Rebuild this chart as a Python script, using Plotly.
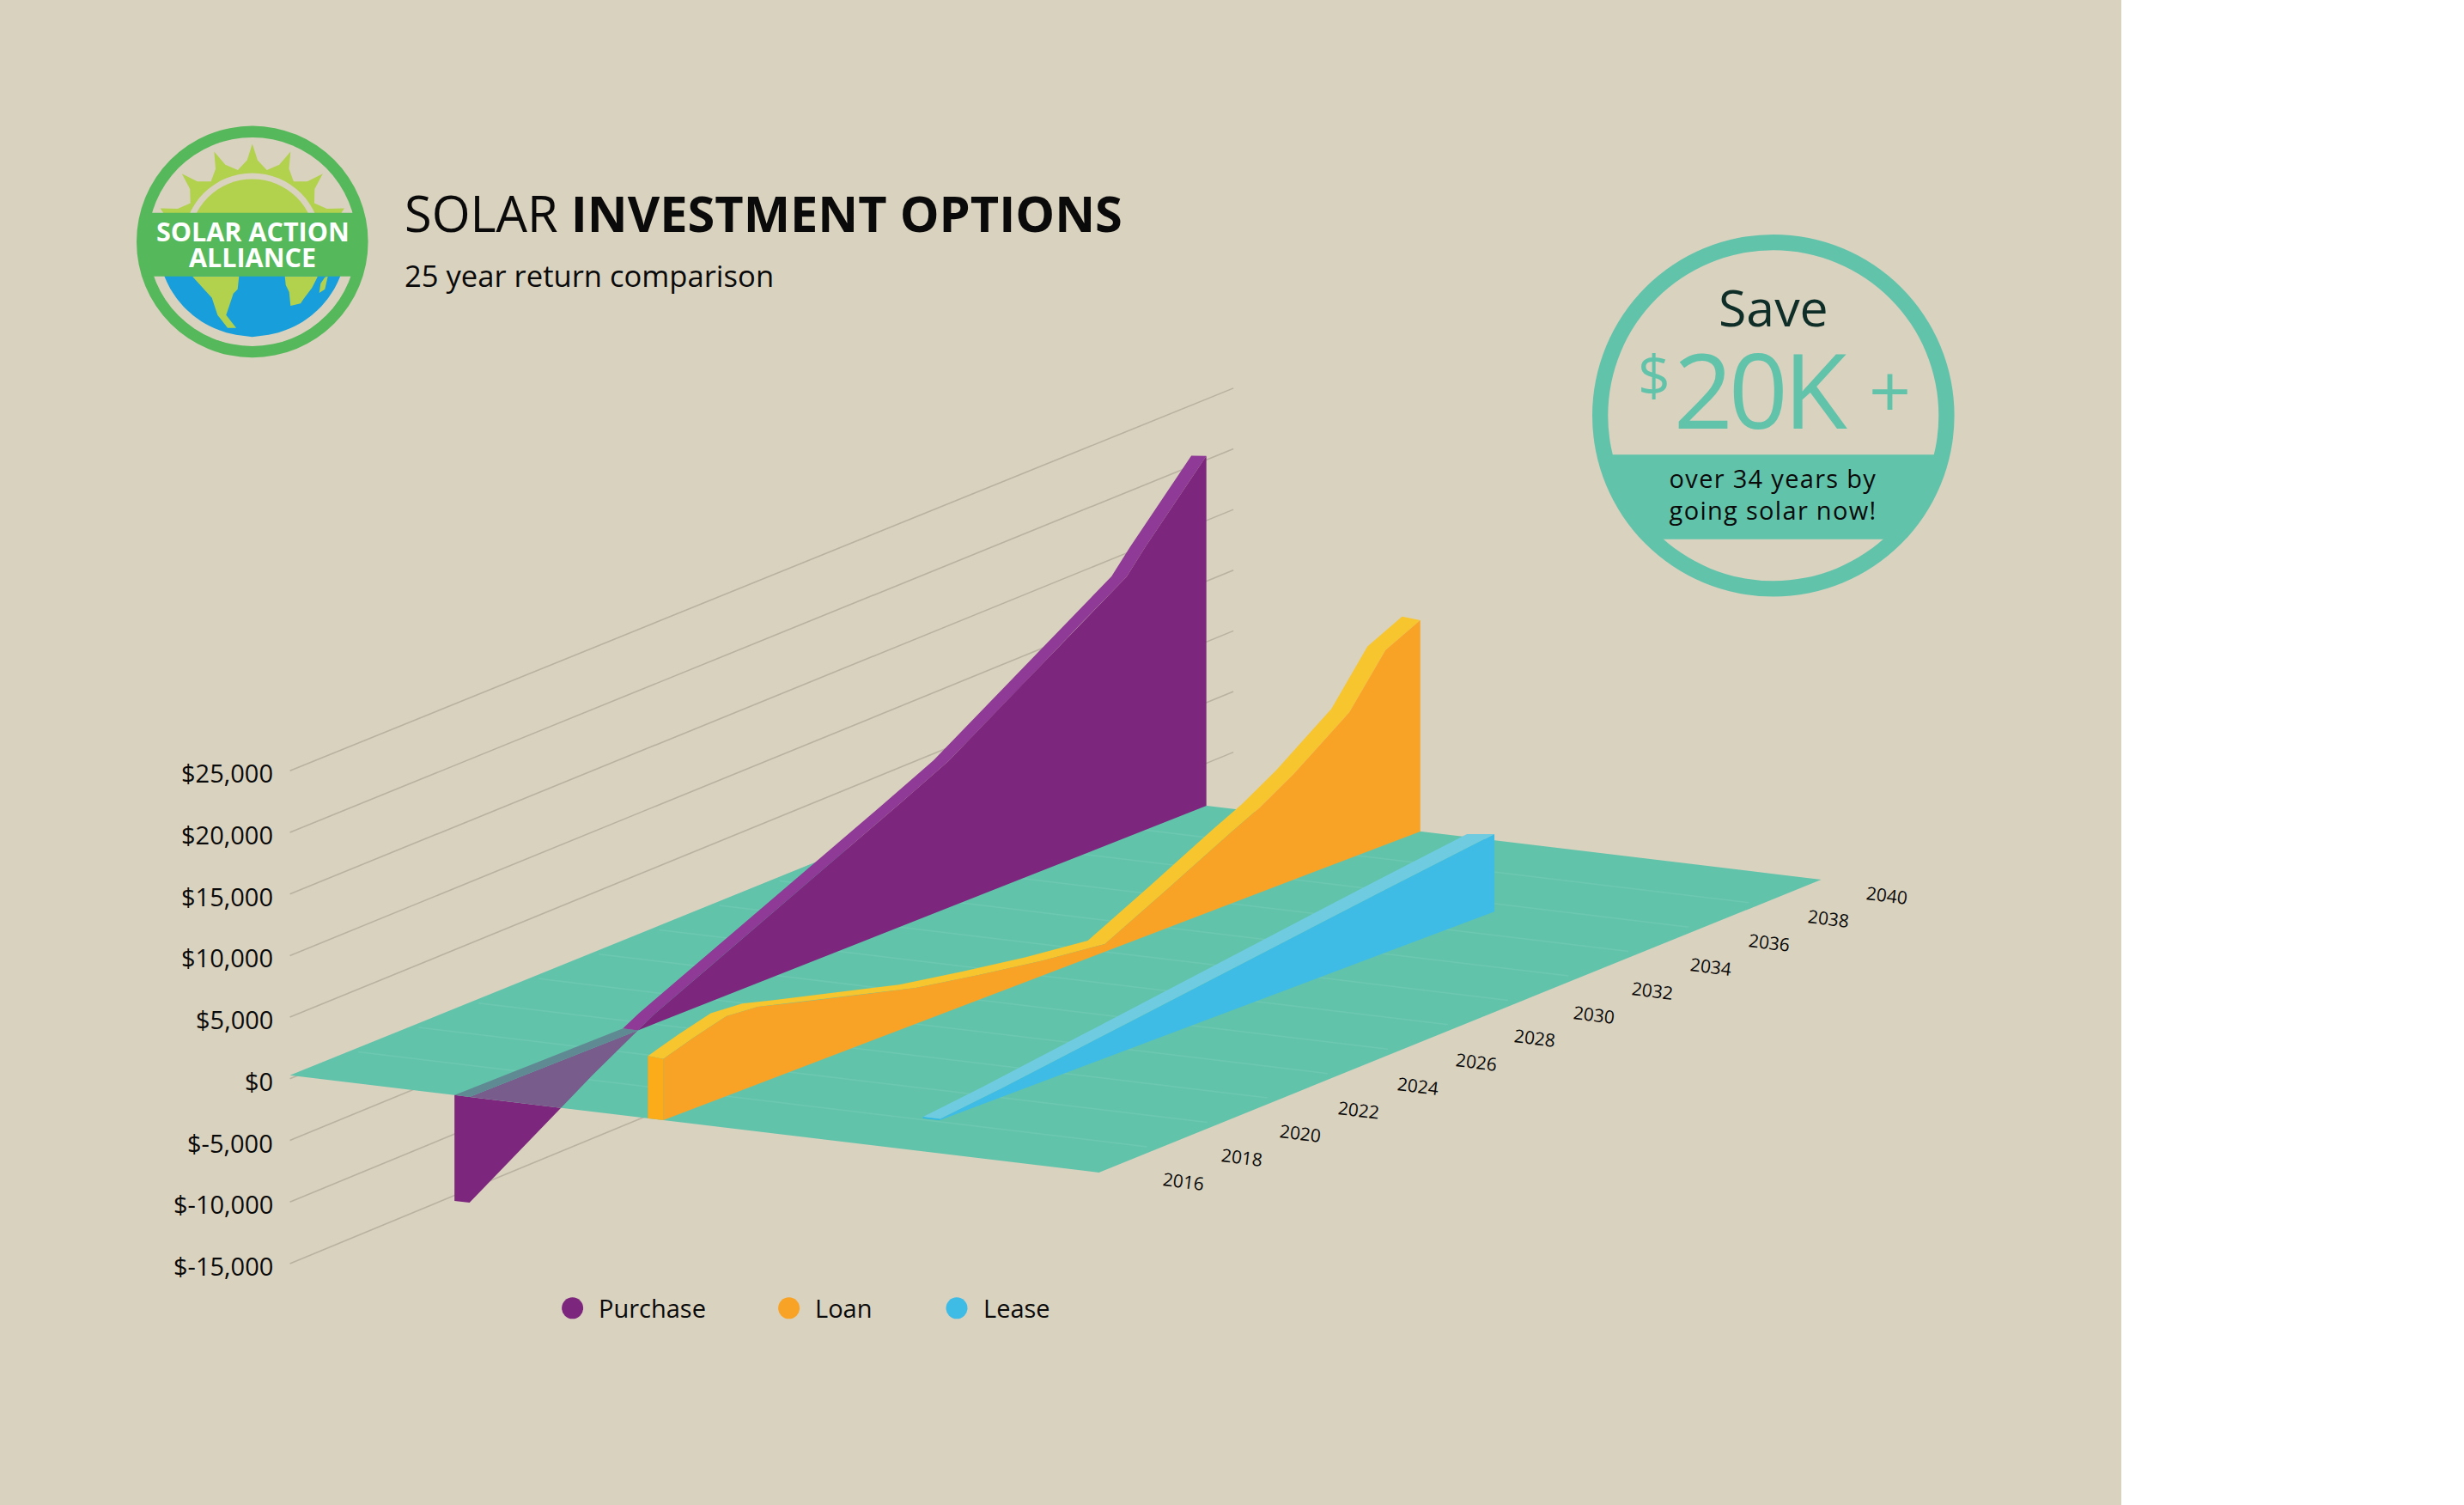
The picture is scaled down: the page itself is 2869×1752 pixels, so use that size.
"""
Solar investment options: 3D looking area chart, drawn with an oblique projection on hidden 2D axes.
"""

import json

import numpy as np
import plotly.graph_objects as go

# data
value_ticks = [25000, 20000, 15000, 10000, 5000, 0, -5000, -10000, -15000]
year_ticks = list(range(2016, 2041, 2))

purchase_years = [2016, 2018, 2020, 2022, 2024, 2026, 2028, 2030, 2031.6, 2034, 2036, 2037.4, 2038, 2040]
purchase_values = [-8585, -5390, -2190, 760, 3068, 5377, 7664, 9986, 11900, 15704, 18947, 21150, 22943, 28400]

loan_years = [2016, 2017, 2018, 2019, 2020, 2022, 2024, 2026, 2028, 2030, 2032, 2034, 2034.9, 2036, 2037.75, 2038.9, 2040]
loan_values = [4972, 5788, 6485, 6276, 5579, 4254, 2929, 2022, 1220, 630, 3173, 5788, 6900, 8600, 11860, 15800, 17150]

lease_years = [2018.1, 2020, 2024, 2028, 2032, 2035.5]
lease_values = [100, 690, 2150, 3600, 5080, 6280]

legend_names = ["Purchase", "Loan", "Lease"]

# projection: screen position of the floor and of one dollar
W, H = 2869, 1752
FLOOR_LEFT = (337.6, 1251.8)
YEAR_VEC = (841.0, -341.0)  # 2016 -> 2040
DEPTH_VEC = (941.9, 113.2)
PX_PER_DOLLAR = 71.7 / 5000

# depth of each wall at its first and last year, width of its top ribbon and how far the back edge is raised
PURCHASE_DEPTH = (0.222, 0.240)
LOAN_DEPTH = (0.4615, 0.5044)
LEASE_DEPTH = (0.7254, 0.7635)
PURCHASE_RIBBON = (0.0186, 0.0186)
LOAN_RIBBON = (0.019, 0.0225)
LEASE_RIBBON = (0.0212, 0.034)
PURCHASE_LIFT = (0, -140)
LOAN_LIFT = (100, 120)
LEASE_LIFT = (0, -265)

FONT = "Open Sans"
PANEL = "#d9d2bf"
TEAL = "#62c3ab"
FLOOR_LINE = "#6dc8b1"
GRID = "#b9b2a1"
DARK = "#0a0a0a"
PURPLE = "#7d267d"
PURPLE_TOP = "#8e3a96"
PURPLE_TINT = "#775c8c"
PURPLE_BAND = "#5f8a93"
ORANGE = "#f9a326"
ORANGE_TOP = "#f7c52d"
ORANGE_CAP = "#fbac18"
BLUE = "#3ebce6"
BLUE_TOP = "#6fcbe0"
BLUE_CAP = "#27b4ee"
GREEN = "#55b95b"
LIME = "#b2d14d"
SEA = "#189fdb"

# plotly has no tracking option, set on the svg text after drawing
TRACKING = {"20K": -5.2, "over 34 years by": 1.3, "going solar now!": 1.3}


def project(year, value, depth):
    t = (np.asarray(year, dtype=float) - 2016) / 24
    value = np.asarray(value, dtype=float)
    depth = np.asarray(depth, dtype=float)
    x = FLOOR_LEFT[0] + t * YEAR_VEC[0] + depth * DEPTH_VEC[0]
    y = FLOOR_LEFT[1] + t * YEAR_VEC[1] + depth * DEPTH_VEC[1] - value * PX_PER_DOLLAR
    return x, y


def polygon(xs, ys, color):
    return go.Scatter(
        x=list(xs),
        y=list(ys),
        mode="lines",
        fill="toself",
        fillcolor=color,
        line={"width": 0, "color": color},
        hoverinfo="skip",
        showlegend=False,
    )


def path_of(xs, ys):
    return "M " + " L ".join(f"{a:.1f},{b:.1f}" for a, b in zip(xs, ys)) + " Z"


def clip_front(xs, ys, keep_below):
    # Sutherland-Hodgman against the front edge of the floor
    def side(x, y):
        edge = FLOOR_LEFT[1] + (x - FLOOR_LEFT[0]) * DEPTH_VEC[1] / DEPTH_VEC[0]
        return (y - edge) if keep_below else (edge - y)

    out_x, out_y = [], []
    n = len(xs)
    for i in range(n):
        x1, y1, x2, y2 = xs[i], ys[i], xs[(i + 1) % n], ys[(i + 1) % n]
        s1, s2 = side(x1, y1), side(x2, y2)
        if s1 >= 0:
            out_x.append(x1)
            out_y.append(y1)
        if (s1 >= 0) != (s2 >= 0):
            f = s1 / (s1 - s2)
            out_x.append(x1 + f * (x2 - x1))
            out_y.append(y1 + f * (y2 - y1))
    return out_x, out_y


def series_traces(years, values, depth_range, ribbon_range, lift_range, wall, top, cap):
    years = np.array(years, dtype=float)
    values = np.array(values, dtype=float)
    f = (years - years[0]) / (years[-1] - years[0])
    depth = depth_range[0] + f * (depth_range[1] - depth_range[0])
    rear = depth - (ribbon_range[0] + f * (ribbon_range[1] - ribbon_range[0]))
    lift = lift_range[0] + f * (lift_range[1] - lift_range[0])
    traces = []

    first = 0
    if values[0] < 0:
        # the part under the floor: solid below the front edge, seen through the floor above it
        first = int(np.argmax(values > 0))
        v0, v1 = values[first - 1], values[first]
        s = -v0 / (v1 - v0)
        cross_year = years[first - 1] + s * (years[first] - years[first - 1])
        cross_depth = depth[first - 1] + s * (depth[first] - depth[first - 1])
        cross_rear = rear[first - 1] + s * (rear[first] - rear[first - 1])

        xr, yr = project(years[0], values[0], rear[0])
        xr0, yr0 = project(years[0], 0, rear[0])
        xt, yt = project(years[:first], values[:first], depth[:first])
        xc, yc = project(cross_year, 0, cross_depth)
        xb, yb = project(years[0], 0, depth[0])
        xs = [float(xr0), float(xr)] + list(xt) + [float(xc), float(xb)]
        ys = [float(yr0), float(yr)] + list(yt) + [float(yc), float(yb)]
        traces.append(polygon(*clip_front(xs, ys, True), wall))
        traces.append(polygon(*clip_front(xs, ys, False), PURPLE_TINT))
        xcr, ycr = project(cross_year, 0, cross_rear)
        traces.append(polygon([xr0, xcr, xc, xb], [yr0, ycr, yc, yb], PURPLE_BAND))

        years = np.r_[cross_year, years[first:]]
        values = np.r_[0, values[first:]]
        depth = np.r_[cross_depth, depth[first:]]
        rear = np.r_[cross_rear, rear[first:]]
        lift = np.r_[0, lift[first:]]

    xf, yf = project(years, values, depth)
    xb, yb = project(years, 0, depth)
    xr, yr = project(years, values + lift, rear)
    traces.append(polygon(np.r_[xr, xf[::-1]], np.r_[yr, yf[::-1]], top))
    traces.append(polygon(np.r_[xf, xb[::-1]], np.r_[yf, yb[::-1]], wall))
    if first == 0:
        xr0, yr0 = project(years[0], 0, rear[0])
        traces.append(polygon([xr[0], xf[0], xb[0], xr0], [yr[0], yf[0], yb[0], yr0], cap))
    return traces


def label(x, y, text, size, color=DARK, xanchor="center", yanchor="middle", angle=0):
    font = {"family": FONT, "size": size, "color": color}
    return dict(
        x=x, y=y, xref="x", yref="y", text=text, showarrow=False, xanchor=xanchor, yanchor=yanchor,
        textangle=angle, font=font,
    )


def circle(cx, cy, r, color):
    return dict(
        type="circle", xref="x", yref="y", x0=cx - r, x1=cx + r, y0=cy - r, y1=cy + r,
        fillcolor=color, line={"width": 0}, layer="below",
    )


def fill_path(xs, ys, color):
    return dict(type="path", xref="x", yref="y", path=path_of(xs, ys), fillcolor=color, line={"width": 0}, layer="below")


def chord_band(cx, cy, r, y0, y1, color):
    # part of a disc between two horizontal lines
    yy = np.linspace(y0, y1, 40)
    half = np.sqrt(np.maximum(r**2 - (yy - cy) ** 2, 0))
    return fill_path(np.r_[cx - half, (cx + half)[::-1]], np.r_[yy, yy[::-1]], color)


def logo_shapes():
    cx, cy = 293.8, 281.4
    shapes = [circle(cx, cy, 134.8, GREEN), circle(cx, cy, 121.5, PANEL)]

    # sun rays with hollow sides
    tips = np.radians([-70, -46, -23, 0, 23, 46, 70])
    rx, ry = [], []
    for i, a in enumerate(tips):
        rx.append(cx + 114 * np.sin(a))
        ry.append(cy - 114 * np.cos(a))
        if i < len(tips) - 1:
            b = tips[i + 1]
            for frac, r in ((0.16, 95), (0.5, 85), (0.84, 95)):
                m = a + frac * (b - a)
                rx.append(cx + r * np.sin(m))
                ry.append(cy - r * np.cos(m))
    rx = [cx - 95] + rx + [cx + 95]
    ry = [cy - 20] + ry + [cy - 20]
    shapes.append(fill_path(rx, ry, LIME))
    shapes.append(circle(cx, cy, 80, PANEL))
    shapes.append(circle(cx, cy, 73, LIME))

    # globe under the band
    shapes.append(chord_band(cx, cy, 121, 300, 400, PANEL))
    shapes.append(chord_band(cx, cy, 110, 300, 400, SEA))
    america = ([222, 385, 380, 365, 350, 340, 375, 345, 310, 290], [545, 545, 590, 605, 650, 680, 725, 725, 680, 620])
    africa = ([545, 660, 640, 610, 600, 565, 560, 548], [545, 545, 585, 625, 640, 648, 600, 575])
    madagascar = ([685, 695, 685, 665, 670], [548, 545, 590, 603, 570])
    for px, py in (america, africa, madagascar):
        shapes.append(fill_path([150 + a / 3 for a in px], [140 + b / 3 for b in py], LIME))

    shapes.append(dict(
        type="rect", xref="x", yref="y", x0=cx - 126, x1=cx + 126, y0=247.7, y1=321.7,
        fillcolor=GREEN, line={"width": 0}, layer="below",
    ))
    return shapes


def badge_shapes():
    cx, cy = 2064.8, 483.8
    return [
        circle(cx, cy, 210.8, TEAL),
        circle(cx, cy, 192.5, PANEL),
        chord_band(cx, cy, 200, 529.3, 627.7, TEAL),
    ]


traces = []

# wall lines run behind the floor, a little closer together at the far end
grid_years = [2016, 2047.35]
for v in value_ticks:
    gx, gy = project(grid_years, [v, 25000 + (v - 25000) * 0.985], [0, 0])
    traces.append(go.Scatter(
        x=list(gx), y=list(gy + 4), mode="lines", line={"color": GRID, "width": 1.6},
        hoverinfo="skip", showlegend=False,
    ))

corner_x, corner_y = project([2016, 2016, 2040, 2040], [0, 0, 0, 0], [0, 1, 1, 0])
traces.append(polygon(corner_x, corner_y, TEAL))
for year in year_ticks[1:-1]:
    lx, ly = project([year, year], [0, 0], [0.01, 0.985])
    traces.append(go.Scatter(
        x=list(lx), y=list(ly), mode="lines", line={"color": FLOOR_LINE, "width": 1.5},
        hoverinfo="skip", showlegend=False,
    ))

traces += series_traces(
    purchase_years, purchase_values, PURCHASE_DEPTH, PURCHASE_RIBBON, PURCHASE_LIFT, PURPLE, PURPLE_TOP, PURPLE
)
traces += series_traces(loan_years, loan_values, LOAN_DEPTH, LOAN_RIBBON, LOAN_LIFT, ORANGE, ORANGE_TOP, ORANGE_CAP)
traces += series_traces(lease_years, lease_values, LEASE_DEPTH, LEASE_RIBBON, LEASE_LIFT, BLUE, BLUE_TOP, BLUE_CAP)

# legend
legend_x = [666.6, 918.6, 1114.0]
legend_text_x = [695, 947, 1143]
legend_y = 1522.8
traces.append(go.Scatter(
    x=legend_x, y=[legend_y] * 3, mode="markers",
    marker={"size": 25, "color": [PURPLE, ORANGE, BLUE]},
    hoverinfo="skip", showlegend=False,
))

annotations = []
for v in value_ticks:
    _, ty = project(2016, v, 0)
    annotations.append(label(319.5, float(ty) + 6.5, f"${v:,}", 29, xanchor="right"))

for year in year_ticks:
    f = (year - 2016) / 24
    tx, ty = project(year, 0, 1)
    annotations.append(label(float(tx) + 98 - 21.5 * f, float(ty) + 10 + 7.7 * f, str(year), 21, angle=7))

for name, x in zip(legend_names, legend_text_x):
    annotations.append(label(x, legend_y, name, 29, xanchor="left"))

annotations += [
    label(469, 247.5, "SOLAR <b>INVESTMENT OPTIONS</b>", 57.7, xanchor="left"),
    label(469, 320, "25 year return comparison", 34.6, xanchor="left"),
    label(294, 269, "<b>SOLAR ACTION</b>", 30.5, color="white"),
    label(294, 298.5, "<b>ALLIANCE</b>", 30.5, color="white"),
    label(2064.5, 357, "Save", 59, color="#0f2e28"),
    label(2047.5, 452, "20K", 121, color=TEAL),
    label(1925.5, 434.5, "$", 66, color=TEAL),
    label(2200, 453, "+", 86, color=TEAL),
    label(2064, 556, "over 34 years by", 29),
    label(2064, 593, "going solar now!", 29),
]

panel = dict(
    type="rect", xref="x", yref="y", x0=0, x1=2470, y0=0, y1=H, fillcolor=PANEL, line={"width": 0}, layer="below",
)

fig = go.Figure(traces)
fig.update_layout(
    width=W,
    height=H,
    margin={"l": 0, "r": 0, "t": 0, "b": 0, "pad": 0},
    paper_bgcolor="white",
    plot_bgcolor="white",
    showlegend=False,
    xaxis={"visible": False, "range": [0, W], "fixedrange": True},
    yaxis={"visible": False, "range": [H, 0], "fixedrange": True},
    shapes=[panel] + logo_shapes() + badge_shapes(),
    annotations=annotations,
)

post_script = (
    "document.body.style.margin='0';"
    f"var tracking={json.dumps(TRACKING)};"
    "document.querySelectorAll('text.annotation-text').forEach(function(t){"
    "if(tracking[t.textContent]!==undefined){t.style.letterSpacing=tracking[t.textContent]+'px';}});"
)
fig.write_html("out.html", post_script=post_script, config={"displayModeBar": False})
